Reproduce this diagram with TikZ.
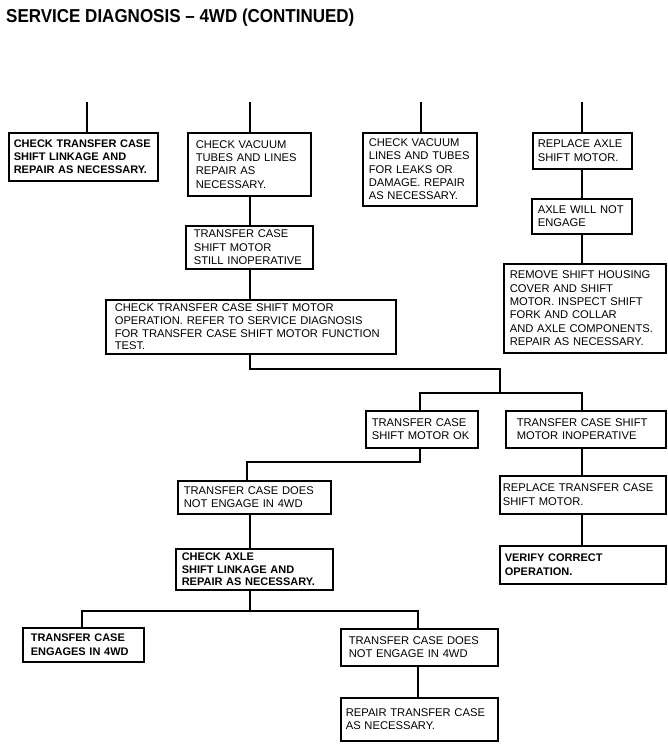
\documentclass[tikz,border=0pt]{standalone}
\usepackage{fontspec}
\setmainfont{Liberation Sans}
\begin{document}
\begin{tikzpicture}[x=1pt,y=-1pt,
  bx/.style={draw, line width=1.6pt, anchor=north west, align=left, inner ysep=1pt,
    font=\fontsize{11.2}{13.4}\selectfont},
  bbx/.style={bx, font=\bfseries\fontsize{11}{13.2}\selectfont},
  ln/.style={line width=1.3pt}]
\useasboundingbox (0,0) rectangle (668,753);
\node[anchor=base west, inner sep=0pt, font=\bfseries\fontsize{17}{20}\selectfont] (title) at (6,22)
  {\scalebox{1}[1.1]{SERVICE DIAGNOSIS – 4WD (CONTINUED)}};
% boxes
\node[bbx, inner xsep=5pt, text width=139pt, minimum height=48pt] (A) at (8,132)
  {CHECK TRANSFER CASE\\SHIFT LINKAGE AND\\REPAIR AS NECESSARY.};
\node[bx, inner xsep=8pt, text width=107pt, minimum height=63pt] (B) at (187,132)
  {CHECK VACUUM\\TUBES AND LINES\\REPAIR AS\\NECESSARY.};
\node[bx, inner xsep=6pt, text width=102pt, minimum height=73pt] (C) at (362,132)
  {CHECK VACUUM\\LINES AND TUBES\\FOR LEAKS OR\\DAMAGE. REPAIR\\AS NECESSARY.};
\node[bx, inner xsep=5pt, text width=89pt, minimum height=36pt] (D) at (532,132)
  {REPLACE AXLE\\SHIFT MOTOR.};
\node[bx, inner xsep=6pt, text width=88pt, minimum height=35pt] (E) at (531,198)
  {AXLE WILL NOT\\ENGAGE};
\node[bx, inner xsep=6pt, text width=150pt, minimum height=89pt] (F) at (503,263)
  {REMOVE SHIFT HOUSING\\COVER AND SHIFT\\MOTOR. INSPECT SHIFT\\FORK AND COLLAR\\AND AXLE COMPONENTS.\\REPAIR AS NECESSARY.};
\node[bx, inner xsep=8pt, text width=111pt, minimum height=43pt] (G) at (185,225)
  {TRANSFER CASE\\SHIFT MOTOR\\STILL INOPERATIVE};
\node[bx, inner xsep=9pt, text width=272pt, minimum height=54pt,
  font=\fontsize{11.2}{12.8}\selectfont] (H) at (105,299)
  {CHECK TRANSFER CASE SHIFT MOTOR\\OPERATION. REFER TO SERVICE DIAGNOSIS\\FOR TRANSFER CASE SHIFT MOTOR FUNCTION\\TEST.};
\node[bx, inner xsep=6pt, text width=100pt, minimum height=37pt] (I) at (365,410)
  {TRANSFER CASE\\SHIFT MOTOR OK};
\node[bx, inner xsep=11pt, text width=138pt, minimum height=37pt] (K) at (505,410)
  {TRANSFER CASE SHIFT\\MOTOR INOPERATIVE};
\node[bx, inner xsep=3pt, text width=160pt, minimum height=38pt] (L) at (499,475)
  {REPLACE TRANSFER CASE\\SHIFT MOTOR.};
\node[bbx, inner xsep=5pt, text width=156pt, minimum height=38pt] (M) at (499,545)
  {VERIFY CORRECT\\OPERATION.};
\node[bx, inner xsep=6pt, text width=141pt, minimum height=33pt] (J) at (177,480)
  {TRANSFER CASE DOES\\NOT ENGAGE IN 4WD};
\node[bbx, inner xsep=6pt, text width=145pt, minimum height=41pt,
  font=\bfseries\fontsize{11}{12.6}\selectfont] (N) at (175,548)
  {CHECK AXLE\\SHIFT LINKAGE AND\\REPAIR AS NECESSARY.};
\node[bbx, inner xsep=8pt, text width=105pt, minimum height=34pt] (O) at (22,627)
  {TRANSFER CASE\\ENGAGES IN 4WD};
\node[bx, inner xsep=8pt, text width=141pt, minimum height=37pt] (P) at (340,628)
  {TRANSFER CASE DOES\\NOT ENGAGE IN 4WD};
\node[bx, inner xsep=5pt, text width=147pt, minimum height=43pt] (Q) at (340,697)
  {REPAIR TRANSFER CASE\\AS NECESSARY.};
% connector coordinates
\coordinate (xa) at (87,102);
\coordinate (xb) at (250,102);
\coordinate (xc) at (421,102);
\coordinate (xd) at (582,102);
\coordinate (h1) at (250,369);
\coordinate (h2) at (500,369);
\coordinate (h3) at (500,393);
\coordinate (bi) at (420,393);
\coordinate (bk) at (582,393);
\coordinate (i1) at (420,462);
\coordinate (i2) at (247,462);
\coordinate (n1) at (250,611);
\coordinate (no) at (82,611);
\coordinate (np) at (418,611);
% connectors
\draw[ln] (xa) -- (xa |- A.north);
\draw[ln] (xb) -- (xb |- B.north);
\draw[ln] (xc) -- (xc |- C.north);
\draw[ln] (xd) -- (xd |- D.north);
\draw[ln] (xd |- D.south) -- (xd |- E.north);
\draw[ln] (xd |- E.south) -- (xd |- F.north);
\draw[ln] (xb |- B.south) -- (xb |- G.north);
\draw[ln] (xb |- G.south) -- (xb |- H.north);
\draw[ln] (h1 |- H.south) -- (h1) -- (h2) -- (h3);
\draw[ln] (bi |- I.north) -- (bi) -- (bk) -- (bk |- K.north);
\draw[ln] (i1 |- I.south) -- (i1) -- (i2) -- (i2 |- J.north);
\draw[ln] (bk |- K.south) -- (bk |- L.north);
\draw[ln] (bk |- L.south) -- (bk |- M.north);
\draw[ln] (n1 |- J.south) -- (n1 |- N.north);
\draw[ln] (n1 |- N.south) -- (n1);
\draw[ln] (no |- O.north) -- (no) -- (np) -- (np |- P.north);
\draw[ln] (np |- P.south) -- (np |- Q.north);
\end{tikzpicture}
\end{document}
